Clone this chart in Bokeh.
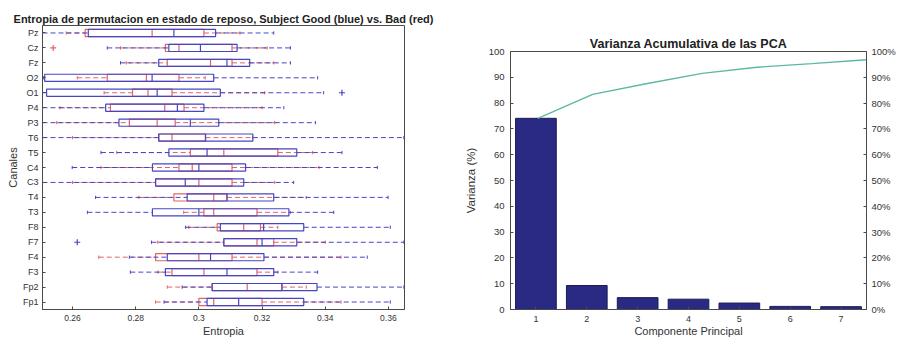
from bokeh.plotting import figure
from bokeh.models import Range1d, LinearAxis, FixedTicker, PrintfTickFormatter
from bokeh.layouts import row, column
from bokeh.embed import file_html
from bokeh.resources import INLINE

# ---------------- data: left panel (box plots) ----------------
channels = ["Pz", "Cz", "Fz", "O2", "O1", "P4", "P3", "T6", "T5", "C4",
            "C3", "T4", "T3", "F8", "F7", "F4", "F3", "Fp2", "Fp1"]

good_wlo = [0.2505, 0.2710, 0.2752, 0.2509, 0.2505, 0.2505, 0.2505, 0.2505, 0.2690, 0.2599,
            0.2505, 0.2673, 0.2647, 0.2958, 0.2850, 0.2780, 0.2783, 0.2947, 0.2890]
good_q1 = [0.2650, 0.2905, 0.2873, 0.2512, 0.2518, 0.2705, 0.2747, 0.2873, 0.2905, 0.2853,
           0.2863, 0.2963, 0.2853, 0.3068, 0.3079, 0.2900, 0.2894, 0.3042, 0.3026]
good_med = [0.2921, 0.3005, 0.3089, 0.2852, 0.2868, 0.2932, 0.2973, 0.3021, 0.3026, 0.3000,
            0.2957, 0.3089, 0.3000, 0.3205, 0.3200, 0.3037, 0.3089, 0.3263, 0.3126]
good_q3 = [0.3053, 0.3121, 0.3161, 0.3047, 0.3068, 0.3016, 0.3063, 0.3171, 0.3310, 0.3148,
           0.3142, 0.3237, 0.3285, 0.3332, 0.3310, 0.3206, 0.3237, 0.3374, 0.3332]
good_whi = [0.3237, 0.3290, 0.3290, 0.3376, 0.3395, 0.3269, 0.3369, 0.3649, 0.3453, 0.3565,
            0.3300, 0.3599, 0.3427, 0.3606, 0.3649, 0.3533, 0.3376, 0.3649, 0.3606]
good_out_ch = ["O1", "F7"]
good_out_val = [0.3453, 0.2615]

bad_wlo = [0.2580, 0.2752, 0.2770, 0.2615, 0.2700, 0.2560, 0.2550, 0.2600, 0.2740, 0.2690,
           0.2600, 0.2810, 0.2952, 0.2968, 0.2870, 0.2683, 0.2870, 0.2900, 0.2863]
bad_q1 = [0.2640, 0.2894, 0.2900, 0.2710, 0.2790, 0.2720, 0.2780, 0.2873, 0.2973, 0.2937,
          0.2863, 0.2921, 0.3016, 0.3058, 0.3079, 0.2863, 0.2915, 0.3042, 0.3000]
bad_med = [0.2852, 0.2937, 0.3037, 0.2834, 0.2839, 0.2892, 0.2868, 0.2915, 0.3079, 0.2979,
           0.3000, 0.3047, 0.3047, 0.3142, 0.3184, 0.3000, 0.3016, 0.3153, 0.3047]
bad_q3 = [0.3016, 0.3105, 0.3105, 0.2937, 0.2915, 0.2953, 0.2925, 0.3021, 0.3250, 0.3105,
          0.3105, 0.3089, 0.3184, 0.3195, 0.3237, 0.3105, 0.3184, 0.3263, 0.3200]
bad_whi = [0.3130, 0.3216, 0.3237, 0.3020, 0.3208, 0.3200, 0.3240, 0.3170, 0.3360, 0.3380,
           0.3240, 0.3340, 0.3290, 0.3250, 0.3400, 0.3450, 0.3250, 0.3340, 0.3450]
bad_out_ch = ["Cz"]
bad_out_val = [0.2539]

x_ticks = [0.26, 0.28, 0.30, 0.32, 0.34, 0.36]
x_tick_labels = ["0.26", "0.28", "0.3", "0.32", "0.34", "0.36"]

# ---------------- data: right panel (PCA) ----------------
components = [1, 2, 3, 4, 5, 6, 7]
variance = [74.1, 9.3, 4.6, 4.0, 2.5, 1.2, 1.1]
cumulative = [74.1, 83.4, 87.6, 91.5, 93.9, 95.3, 96.8]
pct_ticks = [0, 10, 20, 30, 40, 50, 60, 70, 80, 90, 100]

FONT = "Liberation Sans"
AX = "#4a4a4a"
TXT = "#333333"
BLUE = "#4646c4"
RED = "#e06464"


def style_axis(ax, size="9px"):
    ax.axis_line_color = AX
    ax.major_tick_line_color = AX
    ax.major_tick_in = 3
    ax.major_tick_out = 0
    ax.minor_tick_line_color = None
    ax.major_label_text_font = FONT
    ax.major_label_text_font_size = size
    ax.major_label_text_color = TXT
    ax.axis_label_text_font = FONT
    ax.axis_label_text_font_style = "normal"
    ax.axis_label_text_color = TXT


# ---------------- left figure ----------------
n = len(channels)
ypos = {ch: n - 1 - i + 0.5 for i, ch in enumerate(channels)}

p1 = figure(width=437, height=339, output_backend="svg", toolbar_location=None,
            x_range=Range1d(0.2505, 0.3651), y_range=Range1d(0, n),
            min_border_left=42, min_border_right=33, min_border_top=25, min_border_bottom=29)
p1.title.text = "Entropia de permutacion en estado de reposo, Subject Good (blue) vs. Bad (red)"
p1.title.text_font = FONT
p1.title.text_font_size = "11px"
p1.title.text_font_style = "bold"
p1.title.text_color = "#222222"
p1.title.align = "center"
p1.title.standoff = 1
p1.title.offset = 0
p1.xgrid.grid_line_color = None
p1.ygrid.grid_line_color = None
p1.outline_line_color = AX

bh = 0.48   # box height (data units)
ch_h = 0.22  # whisker cap height


def draw_group(wlo, q1, med, q3, whi, color, out_ch, out_val):
    ys = [ypos[c] for c in channels]
    p1.segment(x0=wlo, x1=q1, y0=ys, y1=ys, line_color=color, line_dash="5 3", line_width=1)
    p1.segment(x0=q3, x1=whi, y0=ys, y1=ys, line_color=color, line_dash="5 3", line_width=1)
    lo = [y - ch_h / 2 for y in ys]
    hi = [y + ch_h / 2 for y in ys]
    p1.segment(x0=wlo, x1=wlo, y0=lo, y1=hi, line_color=color, line_width=1)
    p1.segment(x0=whi, x1=whi, y0=lo, y1=hi, line_color=color, line_width=1)
    p1.hbar(y=ys, left=q1, right=q3, height=bh, fill_color=None, line_color=color, line_width=1.2)
    blo = [y - bh / 2 for y in ys]
    bhi = [y + bh / 2 for y in ys]
    p1.segment(x0=med, x1=med, y0=blo, y1=bhi, line_color=color, line_width=1.2)
    p1.scatter(x=out_val, y=[ypos[c] for c in out_ch], marker="cross", size=6,
               line_color=color, line_width=1.2)


draw_group(bad_wlo, bad_q1, bad_med, bad_q3, bad_whi, RED, bad_out_ch, bad_out_val)
draw_group(good_wlo, good_q1, good_med, good_q3, good_whi, BLUE, good_out_ch, good_out_val)

yt = [ypos[c] for c in channels]
p1.yaxis.ticker = FixedTicker(ticks=yt)
p1.yaxis.major_label_overrides = {ypos[c]: c for c in channels}
p1.yaxis.axis_label = "Canales"
p1.xaxis.ticker = FixedTicker(ticks=x_ticks)
p1.xaxis.major_label_overrides = dict(zip(x_ticks, x_tick_labels))
p1.xaxis.axis_label = "Entropia"
style_axis(p1.xaxis[0], "8.5px")
style_axis(p1.yaxis[0], "9px")
p1.xaxis.axis_label_text_font_size = "11px"
p1.yaxis.axis_label_text_font_size = "11px"
p1.xaxis.major_label_standoff = 5
p1.xaxis.axis_label_standoff = 1
p1.yaxis.major_label_standoff = 4
p1.yaxis.axis_label_standoff = 1

# ---------------- right figure ----------------
p2 = figure(width=461, height=339, output_backend="svg", toolbar_location=None,
            x_range=Range1d(0.5, 7.5), y_range=Range1d(0, 100),
            min_border_left=73, min_border_right=26, min_border_top=51, min_border_bottom=26)
p2.title.text = "Varianza Acumulativa de las PCA"
p2.title.text_font = FONT
p2.title.text_font_size = "12.5px"
p2.title.text_font_style = "bold"
p2.title.text_color = "#222222"
p2.title.align = "center"
p2.title.standoff = 1
p2.xgrid.grid_line_color = None
p2.ygrid.grid_line_color = None
p2.outline_line_color = AX

p2.vbar(x=components, top=variance, width=0.8, fill_color="#2a2a84", line_color="#1c1c55")

p2.extra_x_ranges = {"cum": Range1d(0.5, 7.0)}
p2.extra_y_ranges = {"pct": Range1d(0, 100)}
p2.line(x=components, y=cumulative, x_range_name="cum", y_range_name="pct",
        line_color="#5cb8a4", line_width=1.3)

p2.xaxis.ticker = FixedTicker(ticks=components)
p2.yaxis.ticker = FixedTicker(ticks=pct_ticks)
p2.xaxis.axis_label = "Componente Principal"
p2.yaxis.axis_label = "Varianza (%)"
style_axis(p2.xaxis[0], "9px")
style_axis(p2.yaxis[0], "9.5px")
p2.xaxis.axis_label_text_font_size = "11px"
p2.yaxis.axis_label_text_font_size = "11.5px"
p2.xaxis.major_label_standoff = 6
p2.xaxis.axis_label_standoff = 0
p2.yaxis.major_label_standoff = 6
p2.yaxis.axis_label_standoff = 9

right2 = LinearAxis(y_range_name="pct", ticker=FixedTicker(ticks=pct_ticks),
                    formatter=PrintfTickFormatter(format="%d%%"))
style_axis(right2, "9.5px")
right2.major_label_standoff = 5
p2.add_layout(right2, "right")

layout = row(column(p1), column(p2))
open("out.html", "w").write(file_html(layout, INLINE))
